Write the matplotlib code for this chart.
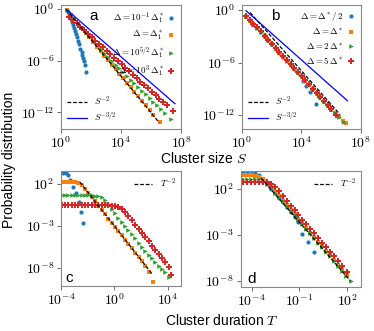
import numpy as np
import matplotlib
matplotlib.use('Agg')
import matplotlib.pyplot as plt
from matplotlib.ticker import NullLocator

plt.rcParams['font.family'] = ['Liberation Sans', 'DejaVu Sans']
plt.rcParams['mathtext.fontset'] = 'cm'

# ---- data (log10 values) ----
# panel a : cluster size, different Delta / Delta_1^*
a_blue_x = [0.38, 0.45, 0.52, 0.6, 0.67, 0.74, 0.81, 0.88, 0.95, 1.02, 1.09, 1.16, 1.23, 1.3, 1.37, 1.43, 1.49, 1.55, 1.6, 1.67]
a_blue_y = [-0.08, -0.35, -0.62, -0.9, -1.16, -1.5, -1.85, -2.2, -2.6, -2.95, -3.3, -3.68, -4.1, -4.6, -5.0, -5.35, -5.65, -6.0, -6.45, -7.3]
a_orange_x = [0.4, 0.65, 0.9, 1.15, 1.4, 1.65, 1.9, 2.15, 2.4, 2.65, 2.9, 3.15, 3.4, 3.65, 3.9, 4.15, 4.4, 4.65, 4.9, 5.15, 5.4, 5.65, 5.9, 6.15, 6.6]
a_orange_y = [-0.15, -0.65, -1.2, -1.72, -2.25, -2.78, -3.3, -3.85, -4.37, -4.9, -5.42, -5.95, -6.48, -7.0, -7.53, -8.05, -8.55, -9.1, -9.6, -10.15, -10.65, -11.2, -11.7, -12.25, -13.16]
a_green_x = [0.4, 0.65, 0.9, 1.15, 1.4, 1.65, 1.9, 2.15, 2.4, 2.65, 2.9, 3.15, 3.4, 3.65, 3.9, 4.15, 4.4, 4.65, 4.9, 5.15, 5.4, 5.65, 5.9, 6.15, 6.4, 6.65, 6.9, 7.3]
a_green_y = [-0.12, -0.6, -1.1, -1.6, -2.1, -2.6, -3.1, -3.6, -4.1, -4.6, -5.08, -5.55, -6.0, -6.45, -6.9, -7.33, -7.75, -8.2, -8.62, -9.05, -9.48, -9.9, -10.35, -10.78, -11.2, -11.62, -12.05, -12.78]
a_red_x = [0.55, 0.8, 1.05, 1.3, 1.55, 1.8, 2.05, 2.3, 2.55, 2.8, 3.05, 3.3, 3.55, 3.8, 4.05, 4.3, 4.55, 4.8, 5.05, 5.3, 5.55, 5.8, 6.05, 6.3, 6.55, 6.8, 7.05, 7.49]
a_red_y = [-0.89, -1.29, -1.68, -2.08, -2.48, -2.87, -3.27, -3.67, -4.06, -4.46, -4.86, -5.25, -5.65, -6.05, -6.44, -6.84, -7.23, -7.63, -8.03, -8.42, -8.82, -9.22, -9.61, -10.01, -10.41, -10.8, -11.2, -11.88]
a_s2_x, a_s2_y = [0.35, 6.55], [-0.05, -13.2]
a_s32_x, a_s32_y = [0.38, 7.6], [-0.08, -11.0]

# panel b : cluster size, Delta around Delta^*
b_x = [0.27, 0.52, 0.77, 1.02, 1.27, 1.52, 1.77, 2.02, 2.27, 2.52, 2.77, 3.02, 3.27, 3.52, 3.77, 4.02, 4.27, 4.52, 4.77, 5.02, 5.27, 5.52, 5.77, 6.02, 6.27, 6.52, 6.77, 6.98]
b_blue_x = b_x[:15] + [4.11, 4.34, 4.56, 4.97]
b_blue_y = [-0.72, -1.2, -1.65, -2.05, -2.5, -2.97, -3.45, -3.93, -4.4, -4.87, -5.33, -5.8, -6.25, -6.7, -7.2, -8.11, -8.69, -9.33, -10.74]
b_orange_x = b_x
b_orange_y = [-0.75, -1.22, -1.66, -2.07, -2.52, -2.98, -3.46, -3.94, -4.41, -4.88, -5.35, -5.82, -6.27, -6.72, -7.17, -7.62, -8.09, -8.57, -9.04, -9.52, -9.99, -10.47, -10.92, -11.37, -11.82, -12.22, -12.62, -12.95]
b_green_x = b_x[:26] + [6.85]
b_green_y = [-0.7, -1.18, -1.63, -2.04, -2.49, -2.95, -3.43, -3.91, -4.38, -4.85, -5.31, -5.78, -6.23, -6.68, -7.13, -7.58, -8.05, -8.53, -9.0, -9.48, -9.95, -10.42, -10.88, -11.33, -11.78, -12.18, -12.8]
b_red_x = b_x[:24] + [6.35]
b_red_y = [-0.68, -1.15, -1.6, -2.0, -2.45, -2.92, -3.4, -3.88, -4.35, -4.82, -5.28, -5.75, -6.2, -6.65, -7.1, -7.55, -8.02, -8.5, -8.97, -9.45, -9.92, -10.4, -10.85, -11.3, -11.95]
b_s2_x, b_s2_y = [0.55, 6.6], [-0.3, -11.95]
b_s32_x, b_s32_y = [0.27, 7.09], [-0.08, -10.36]

# panel c : cluster duration, Delta / Delta_1^*
c_x = [-3.95, -3.7, -3.45, -3.2, -2.95, -2.7, -2.45, -2.2, -1.95, -1.7, -1.45, -1.2, -0.95, -0.7, -0.45, -0.2, 0.05,
       0.3, 0.55, 0.8, 1.05, 1.3, 1.55, 1.8, 2.05, 2.3, 2.55, 2.8, 3.05, 3.3, 3.55, 3.8, 4.05]
c_blue_x = [-3.87, -3.63, -3.45, -3.33, -3.08, -2.88, -2.68, -2.5, -2.33]
c_blue_y = [3.38, 3.35, 3.1, 2.5, 1.68, 0.89, -0.11, -1.31, -2.62]
c_orange_x = c_x[:27] + [2.92]
c_orange_y = [2.25, 2.25, 2.25, 2.24, 2.22, 2.15, 1.9, 1.45, 0.95, 0.42, -0.08, -0.6, -1.1, -1.6, -2.12, -2.62, -3.15,
              -3.65, -4.15, -4.65, -5.2, -5.7, -6.2, -6.7, -7.25, -7.75, -8.5, -9.7]
c_green_x = c_x
c_green_y = [0.66, 0.66, 0.66, 0.66, 0.66, 0.66, 0.66, 0.66, 0.66, 0.65, 0.63, 0.58, 0.45, 0.1, -0.4, -0.95, -1.5,
             -2.0, -2.5, -3.0, -3.5, -4.0, -4.5, -5.0, -5.5, -6.0, -6.45, -6.9, -7.35, -7.75, -8.15, -8.55, -9.1]
c_red_x = c_x + [4.2]
c_red_y = [-0.55, -0.55, -0.55, -0.55, -0.55, -0.55, -0.55, -0.55, -0.55, -0.55, -0.55, -0.55, -0.55, -0.55, -0.56, -0.57, -0.6,
           -0.7, -0.95, -1.35, -1.85, -2.34, -2.85, -3.35, -3.85, -4.35, -4.85, -5.35, -5.85, -6.35, -6.85, -7.35, -7.9, -8.85]
c_t2_x, c_t2_y = [-2.58, 2.79], [2.24, -8.7]

# panel d : cluster duration, Delta around Delta^*
d_x = [-4.55, -4.3, -4.05, -3.8, -3.55, -3.3, -3.05, -2.8, -2.55, -2.3, -2.05, -1.8, -1.55, -1.3, -1.05, -0.8, -0.55,
       -0.3, -0.05, 0.2, 0.45, 0.7, 0.95, 1.2, 1.45, 1.7, 1.95, 2.2]
d_blue_x = d_x[:15] + [-0.86, -0.48, -0.08]
d_blue_y = [3.8, 3.8, 3.8, 3.75, 3.5, 3.05, 2.55, 2.05, 1.55, 1.05, 0.55, 0.05, -0.48, -1.0, -1.6, -2.87, -3.78, -4.87]
d_orange_x = d_x[:26] + [2.0]
d_orange_y = [3.5, 3.5, 3.5, 3.48, 3.35, 3.05, 2.65, 2.2, 1.7, 1.25, 0.75, 0.25, -0.25, -0.75, -1.25, -1.75, -2.25,
              -2.75, -3.25, -3.75, -4.25, -4.75, -5.25, -5.75, -6.25, -6.75, -7.4]
d_green_x = d_x[:27] + [2.23]
d_green_y = [3.15, 3.15, 3.15, 3.15, 3.1, 2.9, 2.55, 2.1, 1.6, 1.15, 0.65, 0.15, -0.35, -0.85, -1.35, -1.85, -2.35,
             -2.85, -3.35, -3.85, -4.35, -4.85, -5.35, -5.85, -6.4, -6.9, -7.45, -8.0]
d_red_x = d_x[:26] + [1.97]
d_red_y = [2.8, 2.8, 2.8, 2.8, 2.8, 2.78, 2.72, 2.55, 2.25, 1.75, 1.25, 0.75, 0.2, -0.3, -0.85, -1.35, -1.85,
           -2.35, -2.85, -3.35, -3.85, -4.35, -4.85, -5.35, -5.85, -6.4, -7.05]
d_t2_x, d_t2_y = [-3.4, 2.2], [3.2, -8.0]

labels_a = [r'$\Delta = 10^{-1}\,\Delta_1^*$', r'$\Delta = \Delta_1^*$',
            r'$\Delta = 10^{5/2}\,\Delta_1^*$', r'$\Delta = 10^{3}\,\Delta_1^*$']
labels_b = [r'$\Delta = \Delta^*/\,2$', r'$\Delta = \Delta^*$',
            r'$\Delta = 2\,\Delta^*$', r'$\Delta = 5\,\Delta^*$']

ticks_ab_x = [0, 4, 8]
ticks_ab_y = [0, -6, -12]
ticks_c_x = [-4, 0, 4]
ticks_d_x = [-4, -1, 2]
ticks_cd_y = [2, -3, -8]

colors = ['#1f77b4', '#ff7f0e', '#2ca02c', '#d62728']
markers = ['o', 's', '>', 'P']
msizes = [3.0, 2.7, 3.3, 3.9]

fig = plt.figure(figsize=(3.74, 3.31), dpi=100)
ax_a = fig.add_axes([0.163, 0.610, 0.321, 0.375])
ax_b = fig.add_axes([0.647, 0.610, 0.318, 0.375])
ax_c = fig.add_axes([0.163, 0.136, 0.321, 0.347])
ax_d = fig.add_axes([0.644, 0.133, 0.321, 0.350])


def pw(v):
    return 10.0 ** np.asarray(v, dtype=float)


def scatter_series(ax, xs, ys, labels=None):
    hs = []
    for i, (x, y) in enumerate(zip(xs, ys)):
        h, = ax.plot(pw(x), pw(y), ls='none', marker=markers[i], ms=msizes[i],
                     color=colors[i], mew=0, label=None if labels is None else labels[i])
        hs.append(h)
    return hs


def style(ax, xt, yt, xlim, ylim):
    ax.set_xscale('log')
    ax.set_yscale('log')
    ax.set_xlim(pw(xlim[0]), pw(xlim[1]))
    ax.set_ylim(pw(ylim[0]), pw(ylim[1]))
    ax.set_xticks(pw(xt))
    ax.set_xticklabels([r'$10^{%d}$' % t for t in xt])
    ax.set_yticks(pw(yt))
    ax.set_yticklabels([r'$10^{%d}$' % t for t in yt])
    ax.xaxis.set_minor_locator(NullLocator())
    ax.yaxis.set_minor_locator(NullLocator())
    ax.tick_params(labelsize=10, length=3, width=0.6, color='#555555', pad=2)
    ax.tick_params(axis='x', pad=1.5)
    for sp in ax.spines.values():
        sp.set_color('#888888')
        sp.set_linewidth(0.8)


leg_kw = dict(fontsize=6.5, frameon=False, markerfirst=False, handletextpad=0.3,
              labelspacing=0.35, borderaxespad=0.2, handlelength=1.0)

# panel a
hs = scatter_series(ax_a, [a_blue_x, a_orange_x, a_green_x, a_red_x],
                    [a_blue_y, a_orange_y, a_green_y, a_red_y], labels_a)
l1, = ax_a.plot(pw(a_s2_x), pw(a_s2_y), color='black', ls=(0, (3, 1.5)), lw=0.9)
l2, = ax_a.plot(pw(a_s32_x), pw(a_s32_y), color='blue', lw=0.9)
style(ax_a, ticks_ab_x, ticks_ab_y, (0, 8), (-13.94, 0.46))
leg = ax_a.legend(handles=hs, loc='upper right', **leg_kw)
ax_a.add_artist(leg)
ax_a.legend([l1, l2], [r'$S^{-2}$', r'$S^{-3/2}$'], loc='lower left', fontsize=6.5, frameon=False,
            handlelength=2.2, labelspacing=0.3, borderaxespad=0.3)
ax_a.text(0.275, 0.91, 'a', transform=ax_a.transAxes, fontsize=11, ha='center', va='center')

# panel b
hs = scatter_series(ax_b, [b_blue_x, b_orange_x, b_green_x, b_red_x],
                    [b_blue_y, b_orange_y, b_green_y, b_red_y], labels_b)
l1, = ax_b.plot(pw(b_s2_x), pw(b_s2_y), color='black', ls=(0, (3, 1.5)), lw=0.9)
l2, = ax_b.plot(pw(b_s32_x), pw(b_s32_y), color='blue', lw=0.9)
style(ax_b, ticks_ab_x, ticks_ab_y, (0, 8), (-13.6, 0.57))
leg = ax_b.legend(handles=hs, loc='upper right', **leg_kw)
ax_b.add_artist(leg)
ax_b.legend([l1, l2], [r'$S^{-2}$', r'$S^{-3/2}$'], loc='lower left', fontsize=6.5, frameon=False,
            handlelength=2.2, labelspacing=0.3, borderaxespad=0.3)
ax_b.text(0.277, 0.91, 'b', transform=ax_b.transAxes, fontsize=11, ha='center', va='center')

# panel c
scatter_series(ax_c, [c_blue_x, c_orange_x, c_green_x, c_red_x],
               [c_blue_y, c_orange_y, c_green_y, c_red_y])
l1, = ax_c.plot(pw(c_t2_x), pw(c_t2_y), color='black', ls=(0, (3, 1.5)), lw=0.9)
style(ax_c, ticks_c_x, ticks_cd_y, (-4, 4.98), (-10.19, 3.55))
ax_c.legend([l1], [r'$T^{-2}$'], loc='upper right', fontsize=6.5, frameon=False,
            handlelength=2.0, borderaxespad=0.2)
ax_c.text(0.07, 0.07, 'c', transform=ax_c.transAxes, fontsize=11, ha='center', va='center')

# panel d
scatter_series(ax_d, [d_blue_x, d_orange_x, d_green_x, d_red_x],
               [d_blue_y, d_orange_y, d_green_y, d_red_y])
l1, = ax_d.plot(pw(d_t2_x), pw(d_t2_y), color='black', ls=(0, (3, 1.5)), lw=0.9)
style(ax_d, ticks_d_x, ticks_cd_y, (-4.67, 2.87), (-8.69, 3.96))
ax_d.legend([l1], [r'$T^{-2}$'], loc='upper right', fontsize=6.5, frameon=False,
            handlelength=2.0, borderaxespad=0.2)
ax_d.text(0.09, 0.07, 'd', transform=ax_d.transAxes, fontsize=11, ha='center', va='center')

fig.text(0.545, 0.52, 'Cluster size $S$', ha='center', va='center', fontsize=10)
fig.text(0.594, 0.033, 'Cluster duration $T$', ha='center', va='center', fontsize=10)
fig.text(0.024, 0.517, 'Probability distribution', ha='center', va='center', fontsize=10, rotation=90)

fig.savefig('out.png', dpi=100)
